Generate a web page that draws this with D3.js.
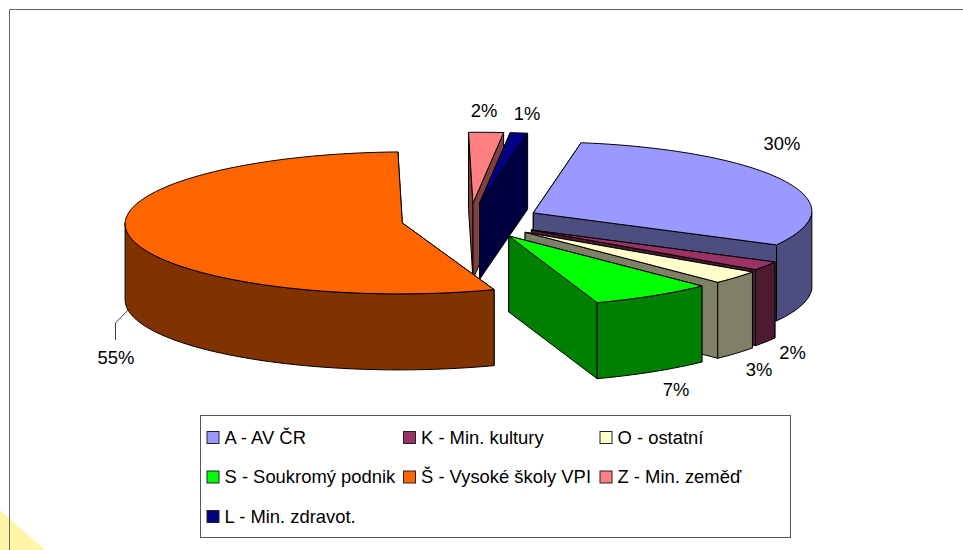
<!DOCTYPE html>
<html><head><meta charset="utf-8">
<script src="https://cdn.jsdelivr.net/npm/d3@7/dist/d3.min.js"></script>
<style>html,body{margin:0;padding:0;background:#fff}svg{display:block}text{font-family:"Liberation Sans",Arial,sans-serif;fill:#000}</style>
</head><body><div id="c"></div>
<script>
const categories=["A - AV ČR","K - Min. kultury","O - ostatní","S - Soukromý podnik","Š - Vysoké školy VPI","Z - Min. zeměď","L - Min. zdravot."];
const values=[30,2,3,7,55,2,1];
const valueLabels=["30%","2%","3%","7%","55%","2%","1%"];
const topColors=["#9999FF","#993366","#FFFFCC","#00FF00","#FF6600","#FF8080","#000080"];
const sideColors=["#4D4D80","#4D1A33","#808066","#008000","#803300","#804040","#000040"];

const W=963,H=550;
const svg=d3.select("#c").append("svg").attr("width",W).attr("height",H);
// corner decoration & frame
svg.append("path").attr("d","M0,510L45,550L0,550Z").attr("fill","#FFF5A6");
svg.append("path").attr("d","M9.5,550V9.5H963").attr("fill","none").attr("stroke","#666").attr("stroke-width",1);

// geometry of the projected pie
const cx=471,cy=221,rx=280,ry=71,depth=76,explode=0.25;
const sx=d3.scaleLinear().domain([-1,1]).range([-rx,rx]);
const sy=d3.scaleLinear().domain([-1,1]).range([-ry,ry]);
const backSkew=0.075,frontSkew=[0.17,0.2,0.12,0.11,0.045,0.11,0.11];
const sliceScale=[0.995,1,1,1,0.99,1,1];
const sliceLift=[0,0,0,0,-1.5,0,0];
const pie=d3.pie().sort(null).value(d=>d).startAngle(8.8*Math.PI/180).endAngle(368.8*Math.PI/180);
const arcs=pie(values);
const line=d3.line();

function pt(i,a,r,z){
  const m=(arcs[i].startAngle+arcs[i].endAngle)/2;
  const ox=cx+explode*sx(Math.sin(m)), oy=cy+explode*sy(-Math.cos(m))+sliceLift[i];
  const dx=r*sliceScale[i]*sx(Math.sin(a)), dy=r*sy(-Math.cos(a));
  const k=dy<0?backSkew:frontSkew[i];
  return [ox+dx-k*dy, oy+dy+(z||0)];
}
function arcPts(i,a0,a1,z){
  const n=Math.max(2,Math.ceil((a1-a0)/(Math.PI/90)));
  return d3.range(n+1).map(j=>pt(i,a0+(a1-a0)*j/n,1,z));
}
const g=svg.append("g");
function poly(pts,fill){
  g.append("path").attr("d",line(pts)+"Z").attr("fill",fill)
    .attr("stroke","#000").attr("stroke-width",1).attr("stroke-linejoin","round");
}
// painter's order, back to front
[5,6,0,1,2,3,4].forEach(i=>{
  const a=arcs[i],s=a.startAngle,e=a.endAngle;
  [s,e].forEach(t=>poly([pt(i,t,0),pt(i,t,1),pt(i,t,1,depth),pt(i,t,0,depth)],sideColors[i]));
  const lo=Math.max(s,Math.PI/2),hi=Math.min(e,Math.PI*1.5);
  if(hi>lo){
    poly(arcPts(i,lo,hi,0).concat(arcPts(i,lo,hi,depth).reverse()),sideColors[i]);
  }
  poly([pt(i,s,0)].concat(arcPts(i,s,e,0)),topColors[i]);
});

// leader line of the 55% label
svg.append("path").attr("d","M128,310L115.5,323V340").attr("fill","none").attr("stroke","#444").attr("stroke-width",1);

// data labels
const labelPos=[[782,150],[792.6,358.5],[759,376],[676,396],[116,364],[484,117],[527,120]];
svg.append("g").selectAll("text").data(valueLabels).join("text")
  .attr("x",(d,i)=>labelPos[i][0]).attr("y",(d,i)=>labelPos[i][1])
  .attr("text-anchor","middle").attr("font-size",18.4).text(d=>d);

// legend
const lg=svg.append("g");
lg.append("rect").attr("x",200.5).attr("y",415.5).attr("width",590).attr("height",122).attr("fill","#fff").attr("stroke","#555").attr("stroke-width",1);
const colX=d3.scalePoint().domain([0,1,2]).range([206.5,599.5]);
const rowY=d3.scalePoint().domain([0,1,2]).range([437,516]);
const items=lg.selectAll("g").data(categories).join("g")
  .attr("transform",(d,i)=>`translate(${colX(i%3)},${rowY(Math.floor(i/3))})`);
items.append("rect").attr("x",0.5).attr("y",-5.5).attr("width",12).attr("height",12)
  .attr("fill",(d,i)=>topColors[i]).attr("stroke","#222").attr("stroke-width",1);
items.append("text").attr("x",18).attr("y",6.5).attr("font-size",18.4).text(d=>d);
</script></body></html>
